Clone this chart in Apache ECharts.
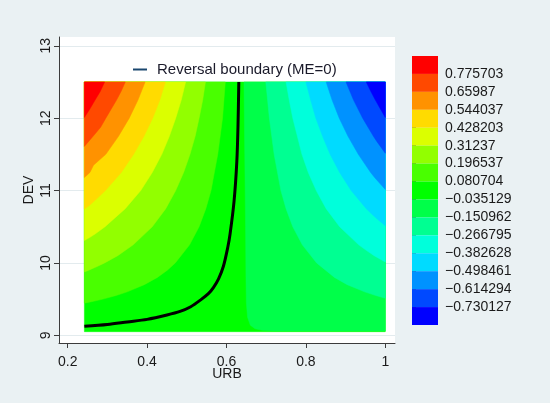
<!DOCTYPE html>
<html>
<head>
<meta charset="utf-8">
<script src="https://cdn.jsdelivr.net/npm/echarts@6/dist/echarts.min.js"></script>
<style>
    html, body { margin: 0; padding: 0; background: #eaf1f3; }
    #chart { width: 550px; height: 403px; }
</style>
</head>
<body>
<div id="chart"></div>
<script>
// axis ticks
var urbTicks = [0.2, 0.4, 0.6, 0.8, 1];
var devTicks = [9, 10, 11, 12, 13];

// area covered by the contour plot
var urbRange = [0.242, 1];
var devRange = [9.05, 12.5];

// contour levels, as in the key (top to bottom)
var levels = [0.775703, 0.65987, 0.544037, 0.428203, 0.31237, 0.196537, 0.080704,
    -0.035129, -0.150962, -0.266795, -0.382628, -0.498461, -0.614294, -0.730127];

// band colours of the key, top to bottom
var bandColors = ['#ff0000', '#ff4900', '#ff9200', '#ffdb00', '#dbff00', '#92ff00', '#49ff00',
    '#00ff00', '#00ff49', '#00ff92', '#00ffdb', '#00dbff', '#0092ff', '#0049ff', '#0000ff'];

// contour lines [URB, DEV], one per level
var c0 = [[0.242, 12.01], [0.255, 12.12], [0.269, 12.25], [0.282, 12.37], [0.293, 12.5]];
var c1 = [[0.242, 11.61], [0.264, 11.75], [0.283, 11.875], [0.296, 12.0], [0.323, 12.25], [0.335, 12.375], [0.345, 12.5]];
var c2 = [[0.242, 11.18], [0.256, 11.25], [0.265, 11.35], [0.296, 11.5], [0.328, 11.75], [0.355, 12.0], [0.377, 12.25], [0.395, 12.5]];
var c3 = [[0.242, 10.745], [0.256, 10.8], [0.271, 10.875], [0.295, 11.0], [0.335, 11.25], [0.366, 11.5], [0.392, 11.75],
    [0.414, 12.0], [0.432, 12.25], [0.446, 12.5]];
var c4 = [[0.242, 10.31], [0.255, 10.35], [0.269, 10.4], [0.294, 10.5], [0.345, 10.75], [0.384, 11.0], [0.413, 11.25],
    [0.437, 11.5], [0.456, 11.75], [0.472, 12.0], [0.486, 12.25], [0.497, 12.5]];
var c5 = [[0.242, 9.876], [0.253, 9.9], [0.274, 9.95], [0.293, 10.0], [0.326, 10.1], [0.365, 10.25], [0.413, 10.5],
    [0.447, 10.75], [0.472, 11.0], [0.492, 11.25], [0.508, 11.5], [0.521, 11.75], [0.531, 12.0], [0.540, 12.25], [0.547, 12.5]];
var c6 = [[0.242, 9.444], [0.265, 9.47], [0.289, 9.5], [0.322, 9.55], [0.350, 9.6], [0.393, 9.7], [0.426, 9.8], [0.451, 9.9],
    [0.471, 10.0], [0.507, 10.25], [0.531, 10.5], [0.548, 10.75], [0.561, 11.0], [0.578, 11.5], [0.590, 12.0], [0.597, 12.5]];
var c7 = [[0.644, 12.5], [0.646, 11.5], [0.648, 10.5], [0.649, 9.8], [0.650, 9.45], [0.653, 9.25], [0.660, 9.14],
    [0.672, 9.09], [0.69, 9.068], [0.72, 9.06]];
var c8 = [[0.699, 12.5], [0.708, 12.0], [0.720, 11.5], [0.737, 11.0], [0.750, 10.75], [0.767, 10.5], [0.791, 10.25],
    [0.827, 10.0], [0.872, 9.8], [0.904, 9.7], [0.948, 9.6], [0.976, 9.55], [1.0, 9.512]];
var c9 = [[0.750, 12.5], [0.758, 12.25], [0.767, 12.0], [0.790, 11.5], [0.806, 11.25], [0.826, 11.0], [0.851, 10.75],
    [0.885, 10.5], [0.933, 10.25], [0.953, 10.17], [0.972, 10.1], [1.0, 10.013]];
var c10 = [[0.800, 12.5], [0.812, 12.25], [0.825, 12.0], [0.842, 11.75], [0.861, 11.5], [0.885, 11.25], [0.914, 11.0],
    [0.952, 10.75], [0.967, 10.67], [0.981, 10.6], [1.0, 10.514]];
var c11 = [[0.851, 12.5], [0.866, 12.25], [0.884, 12.0], [0.906, 11.75], [0.932, 11.5], [0.963, 11.25], [0.974, 11.175],
    [0.986, 11.1], [1.0, 11.015]];
var c12 = [[0.901, 12.5], [0.920, 12.25], [0.943, 12.0], [0.970, 11.75], [0.979, 11.675], [0.989, 11.6], [1.0, 11.515]];
var c13 = [[0.952, 12.5], [0.963, 12.375], [0.975, 12.25], [0.988, 12.125], [1.0, 12.01]];

// reversal boundary ME = 0
var zeroLine = [[0.242, 9.125], [0.30, 9.15], [0.35, 9.185], [0.40, 9.22], [0.45, 9.28], [0.483, 9.33], [0.51, 9.395],
    [0.535, 9.49], [0.555, 9.58], [0.567, 9.66], [0.58, 9.78], [0.592, 9.95], [0.603, 10.21], [0.609, 10.4],
    [0.619, 10.85], [0.626, 11.4], [0.629, 11.9], [0.631, 12.5]];

var contours = [c0, c1, c2, c3, c4, c5, c6, c7, c8, c9, c10, c11, c12, c13];
var lineName = 'Reversal boundary (ME=0)';
var font = 'Liberation Sans, Arial, sans-serif';

// base band first, then positive levels upward, then negative levels downward
var drawOrder = [-1, 6, 5, 4, 3, 2, 1, 0, 7, 8, 9, 10, 11, 12, 13];

function regionPoints(k) {
    if (k < 0) {
        return [[urbRange[0], devRange[0]], [urbRange[1], devRange[0]],
            [urbRange[1], devRange[1]], [urbRange[0], devRange[1]]];
    }
    var pts = contours[k].slice();
    var last = pts[pts.length - 1];
    if (levels[k] > 0) {
        pts.push([urbRange[0], devRange[1]]);
    } else {
        pts.push([urbRange[1], last[1]]);
        pts.push([urbRange[1], devRange[1]]);
    }
    return pts;
}

function regionColor(k) {
    if (k < 0) return bandColors[7];
    return levels[k] > 0 ? bandColors[k] : bandColors[k + 1];
}

function levelText(v) {
    var s = levels[14 - v];
    return s < 0 ? '\u2212' + String(-s) : String(s);
}

var keySteps = levels.map(function (v, i) { return 14 - i; });

var myChart = echarts.init(document.getElementById('chart'));
myChart.setOption({
    animation: false,
    backgroundColor: '#eaf1f3',
    textStyle: { fontFamily: font },
    legend: {
        left: 128,
        top: 57,
        itemWidth: 14,
        itemHeight: 2,
        data: [{ name: lineName, icon: 'rect', itemStyle: { color: '#1a476f' } }],
        textStyle: { fontSize: 15, color: '#1a1a2a', fontFamily: font, padding: [0, 0, 0, 5] }
    },
    grid: [
        { left: 59, top: 37, width: 336, height: 306, show: true, backgroundColor: '#ffffff', borderWidth: 0 },
        { left: 412, top: 56, width: 26, height: 269 }
    ],
    xAxis: [
        {
            type: 'value',
            min: 0.17809,
            max: 1.02444,
            name: 'URB',
            nameLocation: 'middle',
            nameGap: 24,
            nameMoveOverlap: false,
            nameTextStyle: { fontSize: 14, color: '#1a1a1a' },
            axisLine: { onZero: false, lineStyle: { color: '#3c3c3c', width: 1 } },
            axisTick: { length: 5, customValues: urbTicks, lineStyle: { color: '#3c3c3c' } },
            axisLabel: {
                customValues: urbTicks, fontSize: 14, color: '#1a1a1a', margin: 12,
                formatter: function (v) { return String(v); }
            },
            splitLine: { show: false }
        },
        { gridIndex: 1, type: 'value', min: 0, max: 1, show: false }
    ],
    yAxis: [
        {
            type: 'value',
            min: 8.8935,
            max: 13.1217,
            name: 'DEV',
            nameLocation: 'middle',
            nameGap: 23,
            nameRotate: 90,
            nameMoveOverlap: false,
            nameTextStyle: { fontSize: 14, color: '#1a1a1a' },
            axisLine: { show: true, onZero: false, lineStyle: { color: '#3c3c3c', width: 1 } },
            axisTick: { show: true, length: 5, customValues: devTicks, lineStyle: { color: '#3c3c3c' } },
            axisLabel: {
                customValues: devTicks, rotate: 90, fontSize: 14, color: '#1a1a1a', margin: 6,
                formatter: function (v) { return String(v); }
            },
            splitLine: { show: true, lineStyle: { color: '#e3ebee', width: 1 } }
        },
        {
            gridIndex: 1,
            type: 'value',
            position: 'right',
            min: 0,
            max: 15,
            axisLine: { show: false },
            axisTick: { show: true, length: 4, customValues: keySteps, lineStyle: { color: '#555555' } },
            axisLabel: { customValues: keySteps, fontSize: 14, color: '#1a1a1a', margin: 7, formatter: levelText },
            splitLine: { show: false }
        }
    ],
    series: [
        {
            type: 'custom',
            silent: true,
            xAxisIndex: 0,
            yAxisIndex: 0,
            data: drawOrder.map(function (k) {
                var p = k < 0 ? [urbRange[0], devRange[0]] : contours[k][0];
                return [p[0], p[1], k];
            }),
            renderItem: function (params, api) {
                var k = api.value(2);
                var col = regionColor(k);
                return {
                    type: 'polygon',
                    shape: { points: regionPoints(k).map(function (p) { return api.coord(p); }) },
                    style: { fill: col, stroke: col, lineWidth: 0.5 }
                };
            }
        },
        {
            name: lineName,
            type: 'line',
            xAxisIndex: 0,
            yAxisIndex: 0,
            data: zeroLine,
            symbol: 'none',
            smooth: 0.3,
            silent: true,
            z: 5,
            lineStyle: { color: '#000000', width: 3 }
        },
        {
            type: 'custom',
            silent: true,
            xAxisIndex: 1,
            yAxisIndex: 1,
            data: bandColors.map(function (c, i) { return [0, 14 - i, i]; }),
            renderItem: function (params, api) {
                var y = api.value(1);
                var a = api.coord([0, y + 1]);
                var b = api.coord([1, y]);
                return {
                    type: 'rect',
                    shape: { x: a[0], y: a[1], width: b[0] - a[0], height: b[1] - a[1] },
                    style: { fill: bandColors[api.value(2)] }
                };
            }
        }
    ]
});
</script>
</body>
</html>
